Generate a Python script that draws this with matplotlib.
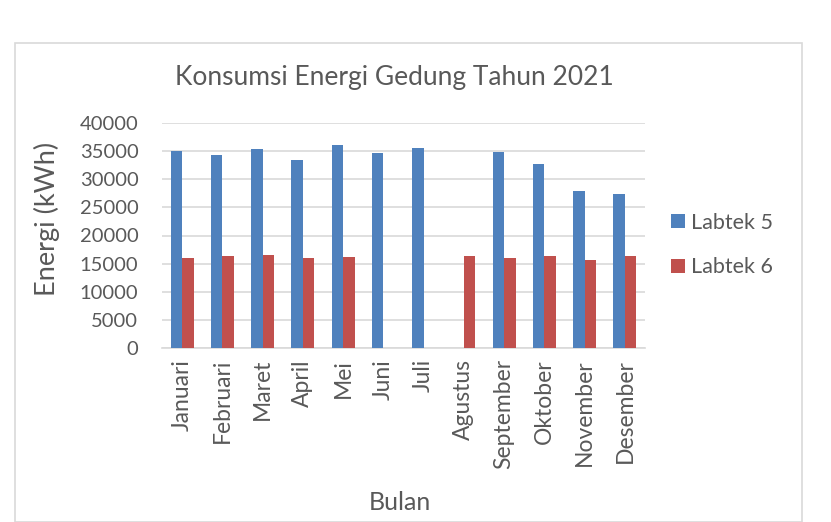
import numpy as np
import matplotlib.pyplot as plt
from matplotlib.patches import Rectangle

# donnees
bulan = ['Januari', 'Februari', 'Maret', 'April', 'Mei', 'Juni', 'Juli',
         'Agustus', 'September', 'Oktober', 'November', 'Desember']
labtek5 = [35040, 34330, 35330, 33380, 36040, 34680, 35570,
           0, 34920, 32790, 27830, 27360]
labtek6 = [16010, 16310, 16480, 16070, 16190, 0, 0,
           16430, 16070, 16430, 15720, 16370]

biru = '#4F81BD'
merah = '#C0504D'
abu = '#595959'
grid = '#D9D9D9'

plt.rcParams['font.family'] = ['Lato', 'DejaVu Sans']

fig = plt.figure(figsize=(8.31, 5.22), dpi=100)
fig.patches.append(Rectangle((15/831, 0), (802-15)/831, 1-43/522, transform=fig.transFigure,
                             fill=False, edgecolor=grid, linewidth=1.2))

ax = fig.add_axes([162/831, 1-348/522, (645-162)/831, (348-123)/522])
x = np.arange(len(bulan))
w = 0.285
ax.bar(x - w/2, labtek5, w, color=biru, label='Labtek 5', zorder=3)
ax.bar(x + w/2, labtek6, w, color=merah, label='Labtek 6', zorder=3)

ax.set_xlim(-0.5, len(bulan) - 0.5)
ax.set_ylim(0, 40000)
ax.set_yticks(np.arange(0, 40001, 5000))
ax.yaxis.grid(True, color=grid, linewidth=1.2, zorder=0)
for s in ['top', 'right', 'left']:
    ax.spines[s].set_visible(False)
ax.spines['bottom'].set_color(grid)
ax.spines['bottom'].set_linewidth(1.2)
ax.tick_params(length=0, colors=abu)
ax.tick_params(axis='y', pad=17, labelsize=14.5)
ax.set_xticks(x)
ax.set_xticklabels(bulan, rotation=90)
ax.tick_params(axis='x', pad=8, labelsize=16.5)

fig.text(394/831, 1-78/522, 'Konsumsi Energi Gedung Tahun 2021', ha='center', va='center',
         fontsize=19, color=abu)
fig.text(47/831, 1-219/522, 'Energi (kWh)', rotation=90, ha='center', va='center',
         fontsize=19.5, color=abu)
fig.text(400/831, 1-502/522, 'Bulan', ha='center', va='center', fontsize=18, color=abu)

ax.legend(loc='center left', bbox_to_anchor=(652/831, 1-245/522), bbox_transform=fig.transFigure,
          frameon=False, fontsize=15.5, labelcolor=abu, handlelength=0.62, handleheight=0.62,
          handletextpad=0.3, labelspacing=1.15)

fig.savefig('out.png', dpi=100)
